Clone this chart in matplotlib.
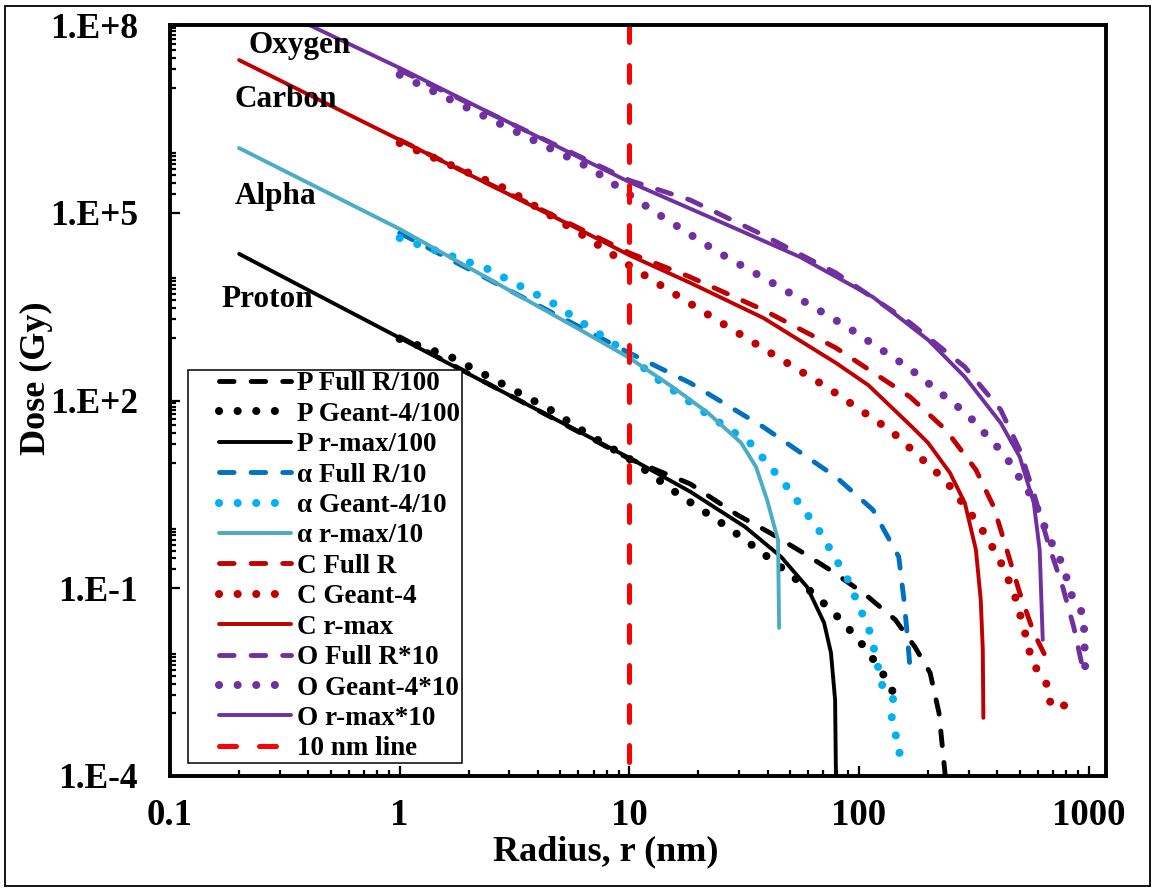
import matplotlib
matplotlib.use('Agg')
import matplotlib.pyplot as plt
from matplotlib.lines import Line2D
from matplotlib.legend_handler import HandlerLine2D
from matplotlib.patches import Rectangle
from matplotlib.ticker import FixedLocator, NullFormatter

plt.rcParams['font.family'] = ['Liberation Serif', 'DejaVu Serif']
plt.rcParams['font.weight'] = 'bold'

W, H = 1154, 888

# ---- data (values as plotted, already scaled as in the legend) ----
p_full_x = [1, 10, 18.4, 29.5, 41.0, 57.2, 77.1, 107, 144, 175, 204, 223, 239]
p_full_y = [1040, 11.7, 4.66, 1.49, 0.767, 0.367, 0.183, 0.0785, 0.0313, 0.0116, 4.46e-3, 1.02e-3, 8e-5]
p_g4_x = [1, 1.67, 2.75, 4.54, 6.37, 10.2, 16.5, 26.7, 36.0, 48.6, 65.0, 85.1, 109, 134, 145]
p_g4_y = [964, 497, 191, 70.8, 31.5, 11.2, 3.1, 0.957, 0.426, 0.183, 0.0757, 0.029, 0.01, 3.2e-3, 1.71e-3]
p_rmax_x = [0.2, 1, 10, 18.4, 31.9, 45.8, 59.4, 70.5, 75.5, 78.7, 79.4]
p_rmax_y = [2.2e4, 1.0e3, 12.1, 3.5, 0.957, 0.318, 0.105, 0.028, 9.3e-3, 1.65e-3, 8.7e-5]

a_full_x = [1, 10, 18.4, 38.3, 79.4, 115, 149, 157, 163, 168]
a_full_y = [4.75e4, 575, 191, 37.8, 6.0, 1.79, 0.318, 0.065, 0.015, 3.84e-3]
a_g4_x = [1, 2.37, 4.63, 8.61, 13.4, 21.4, 33.9, 48.6, 67.6, 89.5, 112, 127, 141, 137, 146, 152, 146]
a_g4_y = [3.95e4, 1.31e4, 3.62e3, 802, 213, 63.4, 20.3, 4.17, 0.80, 0.136, 0.0194, 2.56e-3, 1.77e-3, 1.1e-3, 3.8e-4, 2.8e-4, 1.6e-4]
a_rmax_x = [0.2, 1, 6.12, 10, 15.4, 22.0, 30.7, 35.6, 39.8, 44.4, 44.9]
a_rmax_y = [1.08e6, 5.5e4, 1.34e3, 480, 165, 63.4, 21, 8.7, 2.58, 0.59, 0.0233]

c_full_x = [1, 10, 18.4, 38.3, 79.4, 167, 239, 323, 386, 431, 501, 577, 644]
c_full_y = [1.46e6, 2.28e4, 9.4e3, 2.8e3, 692, 114, 33.9, 7.8, 2.0, 0.53, 0.0845, 0.0194, 8.6e-3]
c_g4_x = [1, 2.98, 6.57, 10.7, 20.4, 38.6, 73.3, 138, 239, 336, 406, 472, 522, 571, 625, 670, 684, 826]
c_g4_y = [1.3e6, 2.31e5, 3.95e4, 1.22e4, 2.8e3, 667, 159, 32.7, 5.2, 0.99, 0.306, 0.0875, 0.0233, 5.97e-3, 4.3e-3, 2.47e-3, 1.27e-3, 1.37e-3]
c_rmax_x = [0.2, 1, 6.12, 10, 18.4, 38.3, 79.4, 110, 138, 170, 200, 249, 289, 323, 339, 346, 348]
c_rmax_y = [2.75e7, 1.46e6, 5.3e4, 2.1e4, 7.6e3, 2.09e3, 398, 175, 79, 38, 21, 6.97, 2.31, 0.41, 0.065, 0.0104, 8.5e-4]

o_full_x = [1, 10, 18.4, 38.3, 79.4, 167, 289, 414, 501, 577, 670, 771, 861, 961]
o_full_y = [1.9e7, 3.3e5, 1.6e5, 4.4e4, 1.09e4, 1.74e3, 344, 70.8, 16.3, 3.3, 0.49, 0.105, 0.024, 3.8e-3]
o_g4_x = [1, 6.76, 12.7, 24.2, 45.8, 88.7, 165, 295, 431, 577, 670, 771, 851, 951, 970]
o_g4_y = [1.6e7, 5.2e5, 1.07e5, 2.37e4, 6.3e3, 1.5e3, 332, 61, 13.5, 2.58, 0.66, 0.237, 0.070, 0.0376, 3.2e-3]
o_rmax_x = [0.2, 1, 6.12, 10, 26.7, 55.3, 115, 200, 289, 414, 501, 577, 612, 631]
o_rmax_y = [3.4e8, 2.06e7, 7.5e5, 3.1e5, 6.4e4, 1.97e4, 4.5e3, 930, 238, 43.9, 12.6, 2.31, 0.41, 0.015]

line10_x = [10, 10]
line10_y = [1e8, 1e-4]

labels = ['P Full R/100', 'P Geant-4/100', 'P r-max/100',
          'α Full R/10', 'α Geant-4/10', 'α r-max/10',
          'C Full R', 'C Geant-4', 'C r-max',
          'O Full R*10', 'O Geant-4*10', 'O r-max*10', '10 nm line']
colors = ['black', 'black', 'black',
          '#0070C0', '#00B0F0', '#4BACC6',
          '#C00000', '#C00000', '#C00000',
          '#7030A0', '#7030A0', '#7030A0', '#FF0000']
series = [(p_full_x, p_full_y), (p_g4_x, p_g4_y), (p_rmax_x, p_rmax_y),
          (a_full_x, a_full_y), (a_g4_x, a_g4_y), (a_rmax_x, a_rmax_y),
          (c_full_x, c_full_y), (c_g4_x, c_g4_y), (c_rmax_x, c_rmax_y),
          (o_full_x, o_full_y), (o_g4_x, o_g4_y), (o_rmax_x, o_rmax_y),
          (line10_x, line10_y)]
kinds = ['dash', 'dot', 'solid'] * 4 + ['long']

fig = plt.figure(figsize=(W / 100, H / 100), dpi=100)
ax = fig.add_axes([170 / W, 1 - 776 / H, (1106 - 170) / W, (776 - 25) / H])
ax.set_xscale('log')
ax.set_yscale('log')

for (xs, ys), lab, col, kind in zip(series, labels, colors, kinds):
    if kind == 'solid':
        ax.plot(xs, ys, color=col, lw=2.8, solid_capstyle='round', solid_joinstyle='round', label=lab)
    elif kind == 'dash':
        ax.plot(xs, ys, color=col, lw=3.5, dashes=(3.0, 3.5), dash_capstyle='round', label=lab)
    elif kind == 'dot':
        ax.plot(xs, ys, color=col, lw=5.8, dashes=(0.01, 2.3), dash_capstyle='round', label=lab)
    else:
        ax.plot(xs, ys, color=col, lw=3.6, dashes=(3.4, 4.6), dash_capstyle='round', label=lab)

ax.set_xlim(0.1, 1190)
ax.set_ylim(1e-4, 1e8)

# ticks
xmaj = [0.1, 1, 10, 100, 1000]
ax.xaxis.set_major_locator(FixedLocator(xmaj))
ax.xaxis.set_minor_locator(FixedLocator([k * 10.0 ** e for e in range(-1, 3) for k in range(2, 10)]))
ax.set_xticklabels(['0.1', '1', '10', '100', '1000'])
ax.xaxis.set_minor_formatter(NullFormatter())

ymaj = [1e-4, 1e-1, 1e2, 1e5, 1e8]
ax.yaxis.set_major_locator(FixedLocator(ymaj))
ax.yaxis.set_minor_locator(FixedLocator([k * 10.0 ** e for e in (-3, -1, 1, 3, 5, 7) for k in range(1, 10)]))
ax.set_yticklabels(['1.E-4', '1.E-1', '1.E+2', '1.E+5', '1.E+8'])
ax.yaxis.set_minor_formatter(NullFormatter())

ax.tick_params(which='both', direction='in', width=1.6, colors='black')
ax.tick_params(which='major', length=7.5)
ax.tick_params(which='minor', length=4.5)
ax.tick_params(axis='x', which='major', labelsize=26.5, pad=16)
ax.tick_params(axis='y', which='major', labelsize=25.5, pad=23)
for sp in ax.spines.values():
    sp.set_linewidth(2.8)

ax.set_xlabel('Radius, r (nm)', fontsize=26, fontweight='bold')
ax.xaxis.set_label_coords((606 - 170) / 936, (776 - 835) / 751)
ax.set_ylabel('Dose (Gy)', fontsize=26, fontweight='bold')
ax.yaxis.set_label_coords((53 - 170) / 936, (776 - 378) / 751)

# ion names
for txt, px, py in [('Oxygen', 248, 53), ('Carbon', 235, 107), ('Alpha', 235, 204), ('Proton', 221, 307)]:
    fig.text(px / W, 1 - py / H, txt, fontsize=22.5, fontweight='bold', ha='left', va='baseline')

fs = 19.5
fs_px = fs * 100 / 72
leg = ax.legend(loc='upper left', bbox_to_anchor=(188 / W, 1 - 370 / H), bbox_transform=fig.transFigure,
                borderaxespad=0, fontsize=fs, frameon=True, fancybox=False, framealpha=1,
                edgecolor='black', borderpad=0.05, labelspacing=0.2,
                handlelength=(102 / fs_px), handletextpad=6 / fs_px,
                handler_map={Line2D: HandlerLine2D(xpad=30 / fs_px)})
leg.get_frame().set_linewidth(1.1)

fig.patches.append(Rectangle((5 / W, 1 - 886 / H), (1150 - 5) / W, (886 - 6) / H,
                             transform=fig.transFigure, fill=False, edgecolor='black', lw=1.3))

fig.savefig('out.png', dpi=100)
